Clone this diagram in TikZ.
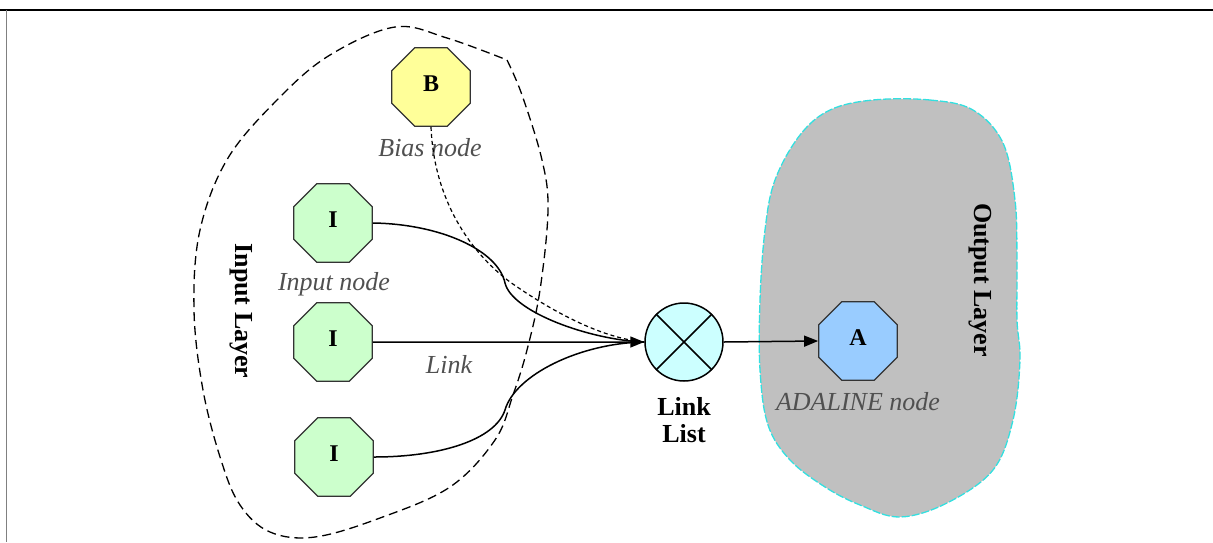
\documentclass[tikz,border=0pt]{standalone}
\usepackage{fontspec}
\setmainfont{Liberation Serif}
\usetikzlibrary{shapes.geometric,arrows.meta}

\definecolor{biasfill}{HTML}{FFFF99}
\definecolor{inputfill}{HTML}{CCFFCC}
\definecolor{adafill}{HTML}{99CCFF}
\definecolor{listfill}{HTML}{CCFFFF}
\definecolor{layerfill}{HTML}{C0C0C0}
\definecolor{layeredge}{HTML}{33E0E0}
\definecolor{notegray}{HTML}{505050}

\tikzset{
  octa/.style={regular polygon, regular polygon sides=8, minimum size=85pt,
    inner sep=0pt, draw=black!80, line width=1.2pt,
    font=\fontsize{24}{24}\selectfont\bfseries},
  note/.style={font=\fontsize{26}{30}\selectfont\itshape, text=notegray},
  layer/.style={font=\fontsize{26}{30}\selectfont\bfseries, rotate=-90},
  conn/.style={line width=1.5pt},
  tip/.style={-{Triangle[length=14pt,width=11pt]}},
}

\begin{document}
\begin{tikzpicture}[x=1pt,y=-1pt]
\useasboundingbox (0,0) rectangle (1213,542);

% frame edges
\draw[line width=2.2pt] (0,10) -- (1213,10);
\draw[black!50, line width=1.3pt] (6.5,10) -- (6.5,542);

% output layer region
\draw[fill=layerfill, draw=layeredge, line width=1.3pt, dash pattern=on 8pt off 2pt]
  plot[smooth cycle, tension=0.6] coordinates {
    (873,100) (930,100) (973,110) (1003,143) (1015,200) (1017,260)
    (1017,320) (1020,360) (1013,420) (993,470) (947,503) (900,517)
    (860,505) (825,487) (790,460) (768,425) (760,370) (760,300)
    (765,230) (775,180) (800,135) (830,110)};

% input layer region
\draw[line width=1.3pt, dash pattern=on 9pt off 5pt]
  plot[smooth, tension=0.6] coordinates {
    (507,60) (522,95) (542,160) (548,210) (540,290) (527,350) (513,395)
    (495,440) (450,487) (380,518) (315,537) (270,532) (240,505) (221,460)
    (203,390) (194,310) (200,230) (228,158) (280,97) (330,55) (395,27)
    (447,38) (507,60)};

% layer labels
\node[layer] (inlayer) at (241,311) {Input Layer};
\node[layer] (outlayer) at (980,280) {Output Layer};

% nodes
\node[octa, fill=biasfill] (b) at (431,87) {\raisebox{6pt}{B}};
\node[octa, fill=inputfill] (i1) at (333,223) {\raisebox{6pt}{I}};
\node[octa, fill=inputfill] (i2) at (333,342) {\raisebox{6pt}{I}};
\node[octa, fill=inputfill] (i3) at (334,457) {\raisebox{6pt}{I}};
\node[octa, fill=adafill] (a) at (858,341) {\raisebox{6pt}{A}};
\node[circle, draw=black, line width=1.5pt, fill=listfill, minimum size=78pt,
  inner sep=0pt] (ll) at (684,342) {};
\draw[line width=1.5pt] (ll.north west) -- (ll.south east);
\draw[line width=1.5pt] (ll.north east) -- (ll.south west);

% captions
\node[note] (bcap) at (430,148) {Bias node};
\node[note] (icap) at (334,284) {Input node};
\node[note] (lcap) at (449,364) {Link};
\node[note] (acap) at (858,402) {ADALINE node};
\node[font=\fontsize{26}{27}\selectfont\bfseries, align=center] (llcap)
  at (684,420) {Link\\List};

% links into the link list
\draw[line width=1.2pt, dash pattern=on 4pt off 3pt] (b.south)
  .. controls (434,200) and (470,252) .. (510,282)
  .. controls (550,310) and (600,338) .. (ll.west);
\draw[conn] (i1.east)
  .. controls (440,224) and (498,250) .. (505,283)
  .. controls (512,312) and (590,340) .. (ll.west);
\draw[conn] (i3.east)
  .. controls (440,457) and (495,440) .. (505,410)
  .. controls (515,375) and (580,343) .. (ll.west);
\draw[conn, tip] (i2.east) -- (ll.west);

% link list to ADALINE node
\draw[conn, tip] (ll.east) -- (a.west);
\end{tikzpicture}
\end{document}
